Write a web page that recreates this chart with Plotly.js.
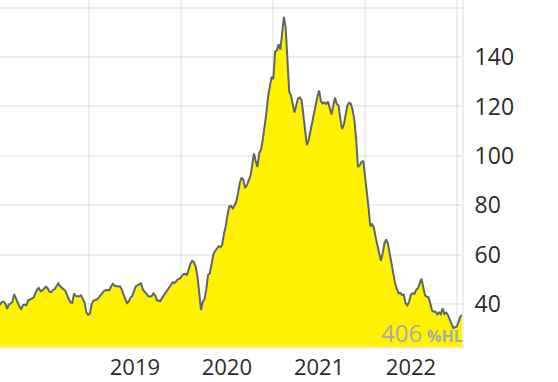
<!DOCTYPE html>
<html>
<head>
<meta charset="utf-8">
<script src="https://cdn.plot.ly/plotly-3.0.1.min.js"></script>
<style>
  html, body { margin: 0; padding: 0; background: #fff; }
  #chart { width: 558px; height: 382px; }
</style>
</head>
<body>
<div id="chart"></div>
<script>
// Weekly closing prices, starting 2018-01-13
const startDate = '2018-01-13';
const stepDays = 7;
const prices = [
  39.6, 40.8, 41.0, 40.3, 38.0, 39.8, 40.2, 40.8, 44.0, 42.2,
  40.5, 39.0, 38.0, 39.5, 39.8, 39.5, 41.5, 42.0, 42.2, 42.6,
  44.5, 45.8, 46.5, 45.2, 45.5, 46.3, 47.0, 46.4, 45.0, 44.8,
  45.7, 46.0, 47.2, 48.4, 47.3, 46.5, 46.0, 45.4, 43.5, 42.0,
  40.7, 40.5, 44.2, 43.3, 43.1, 43.1, 43.5, 41.6, 40.5, 36.6,
  35.6, 36.2, 40.0, 41.4, 41.7, 41.9, 42.6, 43.4, 44.6, 45.3,
  45.7, 45.6, 45.6, 47.2, 48.2, 47.4, 47.1, 47.1, 47.2, 46.0,
  44.0, 42.0, 40.4, 41.0, 42.6, 43.3, 45.5, 47.2, 47.6, 48.0,
  48.4, 45.9, 45.0, 44.1, 43.3, 43.0, 43.2, 44.3, 43.5, 41.5,
  41.2, 41.2, 42.6, 43.6, 44.8, 45.7, 46.7, 48.0, 48.8, 48.5,
  49.2, 50.1, 50.3, 51.0, 52.1, 52.2, 51.8, 54.0, 56.3, 57.5,
  57.0, 55.0, 51.0, 44.5, 37.6, 41.0, 42.0, 46.0, 51.8, 52.5,
  56.0, 60.0, 61.5, 62.4, 63.4, 63.0, 64.0, 68.4, 71.5, 76.0,
  79.5, 79.8, 78.7, 79.9, 81.5, 85.0, 89.0, 91.2, 90.2, 87.0,
  88.1, 90.0, 91.8, 96.0, 101.0, 98.0, 95.5, 101.0, 102.5, 106.5,
  111.5, 117.0, 123.9, 127.4, 132.0, 131.0, 142.1, 142.7, 145.2, 143.0,
  150.0, 156.3, 152.0, 137.0, 126.0, 124.4, 121.0, 117.5, 120.5, 123.2,
  123.7, 122.6, 116.9, 111.0, 104.3, 106.3, 109.5, 113.3, 116.8, 120.4,
  124.0, 126.4, 122.0, 121.2, 121.6, 121.0, 122.0, 119.5, 116.7, 120.3,
  123.5, 121.0, 120.4, 115.0, 110.8, 112.7, 116.8, 120.4, 121.5, 121.0,
  118.5, 114.4, 106.5, 95.5, 96.2, 97.4, 98.0, 92.5, 85.5, 79.0,
  71.5, 72.3, 71.0, 67.2, 63.7, 61.2, 57.5, 60.5, 64.5, 66.2,
  64.5, 60.5, 56.0, 51.5, 48.6, 46.1, 44.4, 44.5, 43.7, 43.8,
  40.2, 39.5, 41.0, 43.8, 44.3, 44.1, 45.7, 46.4, 48.4, 50.3,
  47.0, 43.5, 43.0, 42.7, 40.4, 37.4, 36.9, 36.9, 35.8, 36.6,
  35.9, 38.3, 36.0, 36.5, 35.6, 34.0, 31.8, 30.3, 30.6, 30.8,
  32.7, 34.8, 35.6
];
const yearTicks = ['2019-01-01', '2020-01-01', '2021-01-01', '2022-01-01', '2023-01-01'];
const yearLabels = ['2019', '2020', '2021', '2022', ''];
const yTickVals = [40, 60, 80, 100, 120, 140, 160];
const yTickText = ['40', '60', '80', '100', '120', '140', ''];
const watermarkValue = '406';
const watermarkUnit = '%HL';

const dates = prices.map((_, i) => {
  const d = new Date(startDate + 'T00:00:00Z');
  d.setUTCDate(d.getUTCDate() + i * stepDays);
  return d.toISOString().slice(0, 10);
});

const trace = {
  x: dates,
  y: prices,
  type: 'scatter',
  mode: 'lines',
  fill: 'tozeroy',
  fillcolor: '#fff200',
  line: { color: '#5e666b', width: 2 },
  hoverinfo: 'skip'
};

const gridCol = 'rgba(0,0,0,0.065)';
const layout = {
  width: 558,
  height: 382,
  margin: { l: 0, r: 96, t: 0, b: 35 },
  paper_bgcolor: '#ffffff',
  plot_bgcolor: '#ffffff',
  showlegend: false,
  font: { family: 'Open Sans, Noto Sans, sans-serif', size: 23, color: '#2b2b2b' },
  xaxis: {
    type: 'date',
    range: [dates[0], dates[dates.length - 1]],
    tickvals: yearTicks,
    ticktext: yearLabels,
    ticklabelshift: 46,
    showgrid: true,
    gridcolor: gridCol,
    gridwidth: 2,
    showline: true,
    linecolor: gridCol,
    linewidth: 2,
    zeroline: false,
    ticks: '',
    layer: 'above traces',
    tickfont: { size: 22, color: '#2b2b2b' },
    fixedrange: true
  },
  yaxis: {
    side: 'right',
    range: [22.6, 163.1],
    tickvals: yTickVals,
    ticktext: yTickText,
    showgrid: true,
    gridcolor: gridCol,
    gridwidth: 2,
    showline: true,
    linecolor: gridCol,
    linewidth: 2,
    zeroline: false,
    ticks: 'outside',
    ticklen: 6,
    tickcolor: 'rgba(0,0,0,0)',
    layer: 'above traces',
    tickfont: { size: 23, color: '#2b2b2b' },
    fixedrange: true
  },
  annotations: [
    {
      xref: 'paper', yref: 'paper', x: 0.918, y: 0,
      xanchor: 'right', yanchor: 'bottom', yshift: -4,
      text: watermarkValue, showarrow: false,
      font: { size: 24, color: '#ababab', family: 'Open Sans, sans-serif' }
    },
    {
      xref: 'paper', yref: 'paper', x: 0.92, y: 0,
      xanchor: 'left', yanchor: 'bottom', yshift: -2,
      text: '<b>' + watermarkUnit + '</b>', showarrow: false,
      font: { size: 16, color: '#ababab', family: 'Open Sans, sans-serif' }
    }
  ]
};

Plotly.newPlot('chart', [trace], layout, { displayModeBar: false, staticPlot: true });
</script>
</body>
</html>
